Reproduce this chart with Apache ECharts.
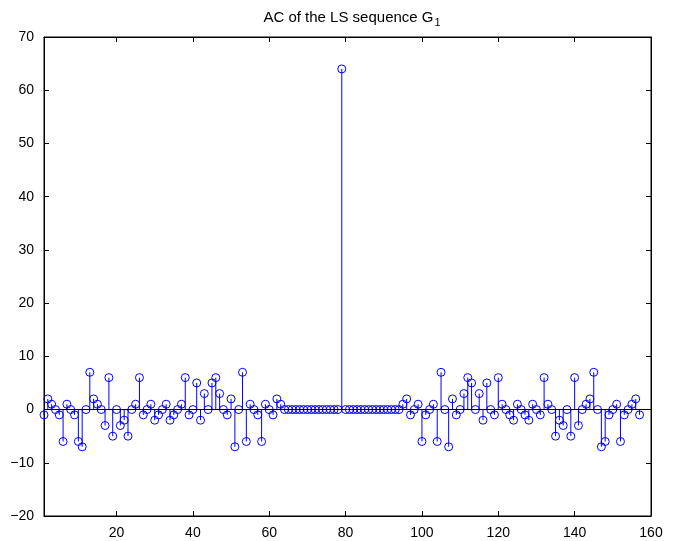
<!DOCTYPE html>
<html>
<head>
<meta charset="utf-8">
<script src="https://cdn.jsdelivr.net/npm/echarts@6/dist/echarts.min.js"></script>
<style>
  html, body {margin: 0; padding: 0; background: #fff;}
  #chart {width: 679px; height: 541px;}
</style>
</head>
<body>
<div id="chart"></div>
<script>
// autocorrelation values, lags 1..157 (peak at 79)
const acValues = [
  -1, 2, 1, 0, -1, -6, 1, 0, -1, -6,
  -7, 0, 7, 2, 1, 0, -3, 6, -5, 0,
  -3, -2, -5, 0, 1, 6, -1, 0, 1, -2,
  -1, 0, 1, -2, -1, 0, 1, 6, -1, 0,
  5, -2, 3, 0, 5, 6, 3, 0, -1, 2,
  -7, 0, 7, -6, 1, 0, -1, -6, 1, 0,
  -1, 2, 1, 0, 0, 0, 0, 0, 0, 0,
  0, 0, 0, 0, 0, 0, 0, 0, 64, 0,
  0, 0, 0, 0, 0, 0, 0, 0, 0, 0,
  0, 0, 0, 0, 1, 2, -1, 0, 1, -6,
  -1, 0, 1, -6, 7, 0, -7, 2, -1, 0,
  3, 6, 5, 0, 3, -2, 5, 0, -1, 6,
  1, 0, -1, -2, 1, 0, -1, -2, 1, 0,
  -1, 6, 1, 0, -5, -2, -3, 0, -5, 6,
  -3, 0, 1, 2, 7, 0, -7, -6, -1, 0,
  1, -6, -1, 0, 1, 2, -1
];
const xTicks = [20, 40, 60, 80, 100, 120, 140, 160];
const yTicks = [-20, -10, 0, 10, 20, 30, 40, 50, 60, 70];

const points = acValues.map((v, i) => [i + 1, v]);

const myChart = echarts.init(document.getElementById('chart'));
const font = 'Liberation Sans, Arial, Helvetica, sans-serif';
const blue = '#0000ff';

const tickStyle = {
  inside: true,
  length: 5,
  lineStyle: {color: '#000', width: 1}
};

myChart.setOption({
  animation: false,
  title: {
    text: 'AC of the LS sequence G{sub|1}',
    left: 347,
    textAlign: 'center',
    top: 3,
    textStyle: {
      fontFamily: font,
      fontSize: 15,
      fontWeight: 'normal',
      color: '#000',
      rich: {
        sub: {fontFamily: font, fontSize: 11, color: '#000', verticalAlign: 'bottom', padding: [9, 0, 0, 1]}
      }
    }
  },
  grid: {
    left: 44,
    right: 28,
    top: 37,
    bottom: 25,
    show: true,
    borderColor: '#000',
    borderWidth: 1,
    backgroundColor: '#fff'
  },
  xAxis: [
    {
      type: 'value',
      min: 1,
      max: 160,
      position: 'bottom',
      axisLine: {show: true, onZero: false, lineStyle: {color: '#000'}},
      axisTick: Object.assign({customValues: xTicks}, tickStyle),
      axisLabel: {
        customValues: xTicks,
        color: '#000',
        fontFamily: font,
        fontSize: 14,
        margin: 10
      },
      splitLine: {show: false}
    },
    {
      type: 'value',
      min: 1,
      max: 160,
      position: 'top',
      axisLine: {show: true, onZero: false, lineStyle: {color: '#000'}},
      axisTick: Object.assign({customValues: xTicks}, tickStyle),
      axisLabel: {show: false},
      splitLine: {show: false}
    }
  ],
  yAxis: [
    {
      type: 'value',
      min: -20,
      max: 70,
      interval: 10,
      position: 'left',
      axisLine: {show: true, onZero: false, lineStyle: {color: '#000'}},
      axisTick: Object.assign({customValues: yTicks}, tickStyle),
      axisLabel: {
        customValues: yTicks,
        color: '#000',
        fontFamily: font,
        fontSize: 14,
        margin: 10,
        formatter: v => (v < 0 ? '\u2212' + Math.abs(v) : String(v))
      },
      splitLine: {show: false}
    },
    {
      type: 'value',
      min: -20,
      max: 70,
      interval: 10,
      position: 'right',
      axisLine: {show: true, onZero: false, lineStyle: {color: '#000'}},
      axisTick: Object.assign({customValues: yTicks}, tickStyle),
      axisLabel: {show: false},
      splitLine: {show: false}
    }
  ],
  series: [
    {
      // stems
      type: 'custom',
      xAxisIndex: 0,
      yAxisIndex: 0,
      data: points,
      renderItem: (params, api) => {
        const x = api.value(0);
        const y = api.value(1);
        const p0 = api.coord([x, 0]);
        const p1 = api.coord([x, y]);
        return {
          type: 'line',
          shape: {x1: p0[0], y1: p0[1], x2: p1[0], y2: p1[1]},
          style: {stroke: blue, lineWidth: 1}
        };
      },
      z: 2
    },
    {
      // circles
      type: 'scatter',
      xAxisIndex: 0,
      yAxisIndex: 0,
      data: points,
      symbol: 'circle',
      symbolSize: 8,
      itemStyle: {color: 'transparent', borderColor: blue, borderWidth: 1, opacity: 1},
      markLine: {
        silent: true,
        symbol: 'none',
        label: {show: false},
        lineStyle: {color: '#000', width: 1, type: 'solid'},
        data: [{yAxis: 0}]
      },
      z: 3
    }
  ]
});
</script>
</body>
</html>
